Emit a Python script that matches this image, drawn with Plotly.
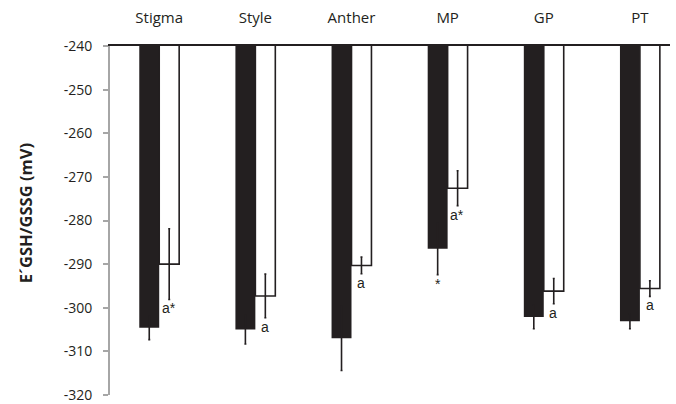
import plotly.graph_objects as go

categories = ["Stigma", "Style", "Anther", "MP", "GP", "PT"]
dark_values = [-304.6, -305.0, -307.0, -286.5, -302.1, -303.1]
dark_errors = [2.7, 3.3, 7.4, 5.9, 2.7, 1.7]
light_values = [-290.0, -297.3, -290.3, -272.6, -296.2, -295.6]
light_errors = [8.1, 5.0, 1.9, 4.0, 2.9, 1.8]
light_labels = ["a*", "a", "a", "a*", "a", "a"]
dark_labels = ["", "", "", "*", "", ""]
y_ticks = [-320, -310, -300, -290, -280, -270, -260, -250, -240]
y_tick_text = ["-320", "-310", "-300", "-290", "-280", "-270", "-260", "-250", "-240"]
y_title = "E´GSH/GSSG (mV)"

xpos = list(range(len(categories)))

fig = go.Figure()
fig.add_trace(go.Bar(
    x=xpos, y=dark_values,
    marker=dict(color="#231f20", line=dict(color="#231f20", width=0)),
    error_y=dict(type="data", array=dark_errors, color="#231f20", thickness=1.6, width=1),
    showlegend=False, hoverinfo="skip",
))
fig.add_trace(go.Bar(
    x=xpos, y=light_values,
    marker=dict(color="white", line=dict(color="#231f20", width=1.6)),
    error_y=dict(type="data", array=light_errors, color="#231f20", thickness=1.6, width=1),
    showlegend=False, hoverinfo="skip",
))

annos = []
for i in xpos:
    if light_labels[i]:
        annos.append(dict(x=i + 0.1, y=light_values[i] - light_errors[i], xref="x", yref="y",
                          text=light_labels[i], showarrow=False, yanchor="top", yshift=1,
                          font=dict(family="Liberation Sans", size=14, color="#231f20")))
    if dark_labels[i]:
        annos.append(dict(x=i - 0.1, y=dark_values[i] - dark_errors[i], xref="x", yref="y",
                          text=dark_labels[i], showarrow=False, yanchor="top", yshift=1,
                          font=dict(family="Liberation Sans", size=14, color="#231f20")))
annos.append(dict(x=-0.1518, y=0.521, xref="paper", yref="paper", text="<b>" + y_title + "</b>",
                  textangle=-90, showarrow=False, xanchor="center", yanchor="middle",
                  font=dict(family="Open Sans", size=16.5, color="#231f20")))

fig.update_layout(
    width=676, height=404,
    margin=dict(l=110, r=6, t=45.5, b=8.7, pad=0),
    paper_bgcolor="white", plot_bgcolor="white",
    barmode="group", bargap=0.585, bargroupgap=0,
    annotations=annos,
    font=dict(family="Open Sans", color="#231f20"),
)
fig.update_xaxes(
    range=[-0.512, 5.313], side="top", automargin=False,
    tickmode="array", tickvals=xpos, ticktext=categories,
    ticks="", showgrid=False, zeroline=False,
    showline=True, linecolor="#231f20", linewidth=2,
    tickfont=dict(family="Open Sans", size=15, color="#231f20"),
    ticklabelstandoff=15,
)
fig.update_yaxes(
    range=[-320, -240], tickmode="array", tickvals=y_ticks, ticktext=y_tick_text,
    automargin=False,
    ticks="outside", ticklen=5, tickcolor="#a6a6a6", tickwidth=1.5,
    showline=True, linecolor="#a6a6a6", linewidth=2,
    showgrid=False, zeroline=False,
    tickfont=dict(family="Open Sans", size=14, color="#231f20"),
    ticklabelstandoff=8,
)

fig.write_html("out.html", config={"displayModeBar": False},
               post_script="document.body.style.margin='0px';")
